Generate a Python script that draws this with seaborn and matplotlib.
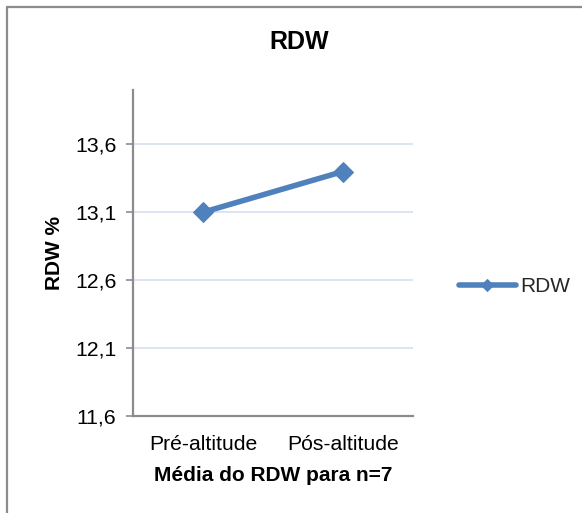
import matplotlib
matplotlib.use("Agg")
import matplotlib.pyplot as plt
from matplotlib.lines import Line2D
import seaborn as sns
import pandas as pd

# Mean RDW before and after altitude exposure (n=7)
categories = ["Pré-altitude", "Pós-altitude"]
rdw_values = [13.10, 13.40]
y_ticks = [11.6, 12.1, 12.6, 13.1, 13.6]
y_tick_labels = ["11,6", "12,1", "12,6", "13,1", "13,6"]
series_name = "RDW"

df = pd.DataFrame({"Momento": categories, "RDW": rdw_values})

sns.set_theme(style="white")
plt.rcParams["font.family"] = ["Liberation Sans", "DejaVu Sans"]

W, H = 582, 513
fig = plt.figure(figsize=(W / 100, H / 100), dpi=100)
fig.patch.set_facecolor("white")
ax = fig.add_axes([133 / W, 1 - 416 / H, 280 / W, 326 / H])

blue = "#4F81BD"
sns.lineplot(data=df, x="Momento", y="RDW", ax=ax, color=blue, linewidth=4.0,
             marker="D", markersize=10.5, markeredgecolor=blue, sort=False,
             label=series_name)

ax.set_xlim(-0.5, 1.5)
ax.set_ylim(11.6, 14.0)
ax.set_yticks(y_ticks)
ax.set_yticklabels(y_tick_labels)
ax.grid(axis="y", color="#D9E2F0", linewidth=1.3)
ax.set_axisbelow(True)

for side in ["top", "right"]:
    ax.spines[side].set_visible(False)
for side in ["left", "bottom"]:
    ax.spines[side].set_color("#8C8C8C")
    ax.spines[side].set_linewidth(1.6)

ax.tick_params(axis="y", which="major", left=True, length=5, width=1.2,
               color="#8C8C8C", labelsize=15.3, pad=7, labelcolor="black")
ax.tick_params(axis="x", bottom=False, labelsize=15.2, pad=8,
               labelcolor="black")

ax.set_xlabel("Média do RDW para n=7", fontsize=15, fontweight="bold",
              labelpad=8, color="black")
ax.set_ylabel("RDW %", fontsize=15, fontweight="bold", labelpad=8,
              color="black")

fig.text(299 / W, 1 - 42 / H, "RDW", fontsize=18, fontweight="bold",
         ha="center", va="center", color="black")

leg = ax.legend(loc="center left", bbox_to_anchor=(451 / W, 1 - 287 / H),
                bbox_transform=fig.transFigure, frameon=False, fontsize=15,
                handlelength=2.7, handletextpad=0.2, borderaxespad=0)
for h in leg.legend_handles:
    h.set_markersize(6)

# outer chart frame (left and top edges)
fig.add_artist(Line2D([7 / W, 7 / W], [0, 1 - 7 / H], transform=fig.transFigure,
                      color="#8C8C8C", linewidth=1.6))
fig.add_artist(Line2D([7 / W, 1], [1 - 7 / H, 1 - 7 / H], transform=fig.transFigure,
                      color="#8C8C8C", linewidth=1.6))

fig.savefig("out.png", dpi=100, facecolor="white")
